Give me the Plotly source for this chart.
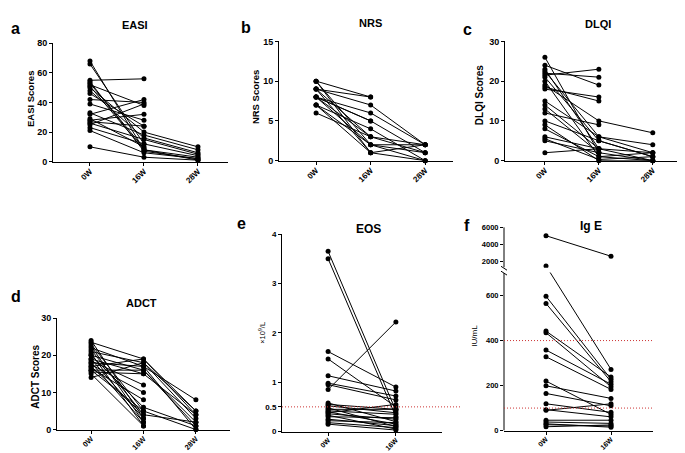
import plotly.graph_objects as go

W, H = 685, 453
FONT = "Arial, Liberation Sans, sans-serif"

# ---------------- data ----------------
weeks3 = ["0W", "16W", "28W"]
weeks2 = ["0W", "16W"]

easi_0w = [68, 66, 55, 54, 53, 52, 51, 50, 48, 46, 42, 39, 33, 32, 28, 27, 26, 25, 23, 21, 10, 29]
easi_16w = [8, 12, 56, 7, 9, 38, 8, 20, 16, 24, 40, 28, 18, 42, 32, 24, 15, 39, 12, 6, 3, 10]
easi_28w = [3, None, None, 2, None, None, 1, 10, 6, None, None, None, 8, None, None, None, 5, None, 4, 2, 1, None]

nrs_0w = [10, 10, 9, 9, 9, 8, 8, 8, 8, 7, 7, 6, 10, 9, 8, 7]
nrs_16w = [8, 2, 8, 7, 1, 6, 3, 2, 5, 4, 2, 3, 1, 3, 5, 1]
nrs_28w = [None, 1, None, 2, 0, 2, 1, 2, 1, 0, 0, 2, 2, None, None, None]

dlqi_0w = [26, 24, 23, 22, 21.5, 21, 20, 19, 18, 18.5, 15, 14, 13, 12, 10, 9, 8, 6, 5.5, 5, 2, 22.5]
dlqi_16w = [2, 19, 3, 21, 23, 5, 1, 10, 16, 15, 6, 3, 2, 9, 5, 0, 1, 3, 0.3, 2, 3, 6]
dlqi_28w = [None, None, None, None, None, 1, 0, 7, None, None, 4, 2, 0, None, 1, 0, 2, 0, 1, None, None, 2]

adct_0w = [24, 23.5, 23, 22.5, 22, 21.5, 21, 20.5, 20, 20, 19, 19, 18.5, 18, 18, 17.5, 17, 17, 16.5, 16, 16, 15.5, 15, 14]
adct_16w = [3, 19, 5, 2, 17, 4, 18, 1, 16, 6, 15, 3, 12, 17, 2, 10, 19, 4, 8, 16, 5, 15, 1, 18]
adct_28w = [None, 5, None, None, 8, None, 3, None, 2, 1, 4, None, None, 0, None, None, 4, 2, None, 1, 0, None, None, 5]

eos_0w = [3.65, 3.5, 1.62, 1.47, 1.13, 0.98, 0.95, 0.85, 0.58, 0.55, 0.52, 0.48, 0.45, 0.42, 0.40, 0.36, 0.33, 0.30, 0.25, 0.22, 0.18, 0.15, 0.38]
eos_16w = [0.42, 0.3, 0.9, 0.5, 0.82, 0.72, 0.64, 2.22, 0.2, 0.45, 0.38, 0.1, 0.45, 0.35, 0.15, 0.25, 0.05, 0.28, 0.12, 0.18, 0.08, 0.03, 0.55]
eos_ref = [0.5]

ige_0w = [5000, 1470, 597, 565, 442, 435, 358, 328, 220, 199, 165, 119, 93, 90, 46, 38, 26, 17, 30]
ige_16w = [2600, 272, 228, 217, 238, 195, 206, 183, 72, 143, 110, 81, 61, 119, 46, 32, 20, 25, 15]
ige_ref = [100, 400]
ige_ticks_low = [0, 200, 400, 600]
ige_ticks_high = [2000, 4000, 6000]

# broken-axis scale for IgE (lower segment 0-700, compressed upper segment)
IGE_LOW_TOP = 700
IGE_HIGH_BOTTOM = 1314
IGE_HIGH_MAX = 6000


def ige_scale(v):
    if v is None:
        return None
    if v <= IGE_LOW_TOP:
        return v
    return 752 + (v - 2000) * 0.038


def px(x):
    return x / W


def py(y):
    return 1 - y / H


fig = go.Figure()
layout = dict(
    width=W, height=H, margin=dict(l=0, r=0, t=0, b=0),
    paper_bgcolor="white", plot_bgcolor="white", showlegend=False,
    font=dict(family=FONT, color="black"),
)
shapes = []
annotations = []


def axis_names(i):
    return ("xaxis" if i == 1 else f"xaxis{i}", "yaxis" if i == 1 else f"yaxis{i}",
            "x" if i == 1 else f"x{i}", "y" if i == 1 else f"y{i}")


def add_panel(i, xpx, ypx, xr, yr, labels, series, ytickvals, yticktext,
              ytick_size, xtick_size, scale=None):
    xa, ya, xr_id, yr_id = axis_names(i)
    layout[xa] = dict(
        domain=[px(xpx[0]), px(xpx[1])], range=xr, anchor=yr_id,
        showline=True, linecolor="black", linewidth=1, showgrid=False, zeroline=False,
        ticks="outside", ticklen=3, tickwidth=1, tickcolor="black",
        tickmode="array", tickvals=list(range(len(labels))), ticktext=labels,
        tickangle=-45, ticklabelstandoff=-2,
        tickfont=dict(family=FONT, size=xtick_size, color="black", weight="bold"),
    )
    layout[ya] = dict(
        domain=[py(ypx[1]), py(ypx[0])], range=yr, anchor=xr_id,
        showline=True, linecolor="black", linewidth=1, showgrid=False, zeroline=False,
        ticks="outside", ticklen=3, tickwidth=1, tickcolor="black",
        tickmode="array", tickvals=ytickvals, ticktext=yticktext,
        tickfont=dict(family=FONT, size=ytick_size, color="black", weight="bold"),
    )
    n = len(series[0])
    for k in range(n):
        yv = [s[k] for s in series]
        if scale:
            yv = [scale(v) for v in yv]
        fig.add_trace(go.Scatter(
            x=list(range(len(series))), y=yv, mode="lines+markers",
            line=dict(color="black", width=1), marker=dict(color="black", size=5),
            xaxis=xr_id, yaxis=yr_id, cliponaxis=False, connectgaps=False,
            hoverinfo="skip",
        ))


add_panel(1, (45, 220), (31, 152), [-0.685, 2.556], [0, 80], weeks3,
          [easi_0w, easi_16w, easi_28w], [0, 20, 40, 60, 80], ["0", "20", "40", "60", "80"], 9, 8)
add_panel(2, (271, 445), (29, 151), [-0.68, 2.51], [0, 15], weeks3,
          [nrs_0w, nrs_16w, nrs_28w], [0, 5, 10, 15], ["0", "5", "10", "15"], 9, 8)
add_panel(3, (497, 682), (29, 151), [-0.74, 2.69], [0, 30], weeks3,
          [dlqi_0w, dlqi_16w, dlqi_28w], [0, 10, 20, 30], ["0", "10", "20", "30"], 9, 8)
add_panel(4, (49, 222), (312, 426), [-0.65, 2.65], [0, 30], weeks3,
          [adct_0w, adct_16w, adct_28w], [0, 10, 20, 30], ["0", "10", "20", "30"], 9, 7.5)
add_panel(5, (274, 434), (226, 428), [-0.68, 1.68], [0, 4], weeks2,
          [eos_0w, eos_16w], [0, 0.5, 1, 2, 3, 4], ["0", "0.5", "1", "2", "3", "4"], 8, 7)
ige_tv = [ige_scale(v) for v in ige_ticks_low + ige_ticks_high]
ige_tt = [str(v) for v in ige_ticks_low + ige_ticks_high]
add_panel(6, (496, 645), (219, 427), [-0.646, 1.646], [0, ige_scale(IGE_HIGH_MAX)], weeks2,
          [ige_0w, ige_16w], ige_tv, ige_tt, 7.5, 7, scale=ige_scale)

# broken y axis for IgE
layout["yaxis6"]["showline"] = False
for y0, y1 in [(0, IGE_LOW_TOP), (ige_scale(IGE_HIGH_BOTTOM), ige_scale(IGE_HIGH_MAX))]:
    shapes.append(dict(type="line", xref="paper", yref="y6", x0=px(496), x1=px(496), y0=y0, y1=y1,
                       line=dict(color="black", width=1)))
shapes.append(dict(type="rect", xref="x6", yref="y6", x0=-0.55, x1=1.6,
                   y0=IGE_LOW_TOP + 2, y1=ige_scale(IGE_HIGH_BOTTOM) - 2,
                   fillcolor="white", line=dict(width=0), layer="above"))
for yy in (261, 266):
    shapes.append(dict(type="line", xref="paper", yref="paper", x0=px(493), x1=px(499),
                       y0=py(yy - 2), y1=py(yy + 2), line=dict(color="black", width=1), layer="above"))

# reference lines
RED_DOT = dict(color="#cc3333", width=1, dash="1px,2px")
for v in eos_ref:
    shapes.append(dict(type="line", xref="paper", yref="y5", x0=px(274), x1=px(452), y0=v, y1=v,
                       line=RED_DOT))
for v in ige_ref:
    shapes.append(dict(type="line", xref="paper", yref="y6", x0=px(496), x1=px(645),
                       y0=ige_scale(v), y1=ige_scale(v), line=RED_DOT))


def text(x, y, s, size, bold=True, angle=0):
    annotations.append(dict(
        x=px(x), y=py(y), xref="paper", yref="paper", text=s, showarrow=False,
        xanchor="center", yanchor="middle", textangle=angle,
        font=dict(family=FONT, size=size, color="black", weight="bold" if bold else "normal"),
    ))


# panel letters
for lx, ly, s in [(7, 16, "a"), (238, 15, "b"), (459, 17, "c"), (8, 290, "d"), (233, 215, "e"), (459, 217, "f")]:
    text(lx, ly, s, 16)

# panel titles
text(127, 12, "EASI", 11)
text(362, 10, "NRS", 11)
text(590, 11, "DLQI", 11)
text(133, 297, "ADCT", 11)
text(361, 221, "EOS", 12)
text(583, 218, "Ig E", 12)

# y-axis titles
text(22, 88, "EASI Scores", 9.5, angle=-90)
text(247, 86, "NRS Scores", 9.5, angle=-90)
text(471, 84, "DLQI Scores", 10, angle=-90)
text(28, 372, "ADCT Scores", 10, angle=-90)
text(254, 327, "×10<sup>9</sup>/L", 7.5, bold=False, angle=-90)
text(467, 330, "IU/mL", 8, bold=False, angle=-90)

layout["shapes"] = shapes
layout["annotations"] = annotations
fig.update_layout(**layout)
fig.write_html("out.html")
